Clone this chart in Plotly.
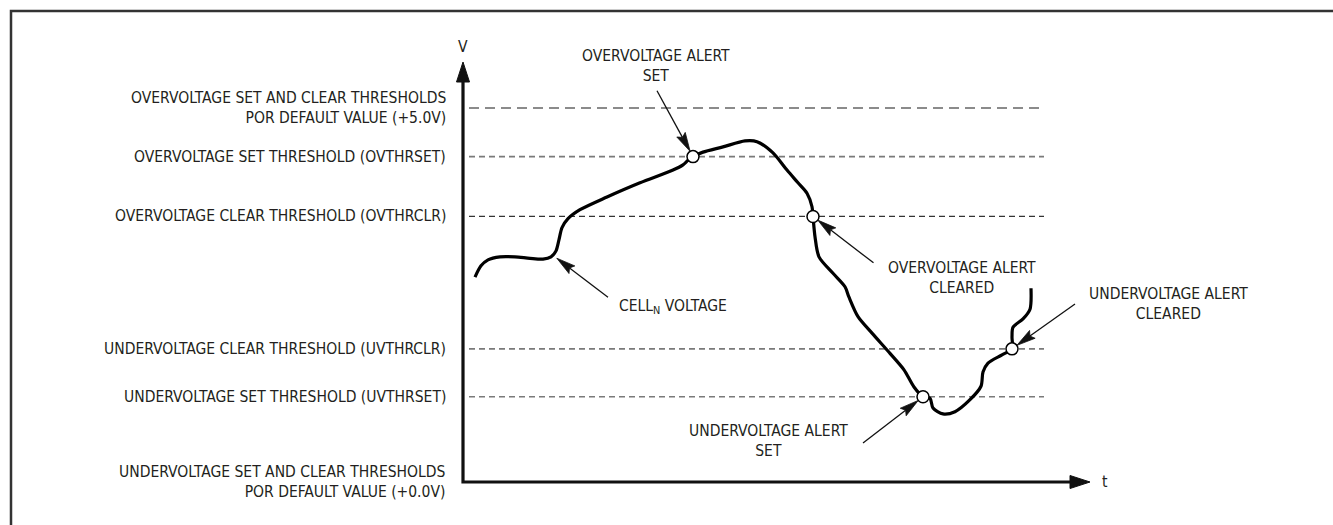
import math
import plotly.graph_objects as go

# ---------------- data ----------------
# Cell voltage trace (time in arbitrary units, voltage in V)
t_cell = [1.2, 1.8, 2.5, 3.7, 5.2, 6.7, 8.0, 8.8, 9.3, 9.6, 9.9, 10.5, 11.7, 14.4,
          17.7, 21.0, 22.0, 22.5, 23.0, 24.0, 26.0, 28.2, 29.4, 31.0, 32.4, 33.5,
          34.4, 34.9, 35.0, 35.2, 35.6, 37.0, 38.2, 38.6, 39.5, 40.9, 42.7, 44.1,
          45.1, 46.0, 46.7, 47.0, 48.0, 49.2, 50.7, 51.8, 52.0, 52.5, 53.9, 54.9,
          54.9, 55.0, 56.0, 56.7, 56.8]
v_cell = [2.74, 2.89, 2.97, 3.01, 3.01, 2.99, 2.98, 3.01, 3.09, 3.24, 3.40, 3.52,
          3.64, 3.81, 4.00, 4.17, 4.24, 4.30, 4.35, 4.41, 4.48, 4.56, 4.55, 4.40,
          4.17, 4.00, 3.86, 3.68, 3.55, 3.28, 3.01, 2.79, 2.61, 2.47, 2.21, 1.99,
          1.72, 1.50, 1.27, 1.14, 1.12, 0.99, 0.91, 0.94, 1.10, 1.28, 1.47, 1.59,
          1.70, 1.78, 1.94, 2.07, 2.18, 2.31, 2.59]

threshold_labels = [
    "OVERVOLTAGE SET AND CLEAR THRESHOLDS<br>POR DEFAULT VALUE (+5.0V)",
    "OVERVOLTAGE SET THRESHOLD (OVTHRSET)",
    "OVERVOLTAGE CLEAR THRESHOLD (OVTHRCLR)",
    "UNDERVOLTAGE CLEAR THRESHOLD (UVTHRCLR)",
    "UNDERVOLTAGE SET THRESHOLD (UVTHRSET)",
    "UNDERVOLTAGE SET AND CLEAR THRESHOLDS<br>POR DEFAULT VALUE (+0.0V)",
]
threshold_values = [5.0, 4.35, 3.55, 1.78, 1.14, 0.0]

# alert events: (time, threshold crossed)
alert_t = [23.0, 35.0, 46.0, 54.9]
alert_v = [4.35, 3.55, 1.14, 1.78]
alert_labels = ["OVERVOLTAGE ALERT<br>SET", "OVERVOLTAGE ALERT<br>CLEARED",
                "UNDERVOLTAGE ALERT<br>SET", "UNDERVOLTAGE ALERT<br>CLEARED"]

# ---------------- layout constants ----------------
W, H = 1333, 525
X0_PX, Y0_PX = 463, 482          # origin position in pixels
T_PER_PX = 0.1
V_PER_PX = 1 / 74.8
x_range = [-X0_PX * T_PER_PX, (W - X0_PX) * T_PER_PX]
y_range = [-(H - Y0_PX) * V_PER_PX, Y0_PX * V_PER_PX]

FONT = "Liberation Sans Narrow, Arial Narrow, DejaVu Sans Condensed, sans-serif"
TXT = "#231f20"
FS = 15.5

fig = go.Figure()

shapes = []
annotations = []

# frame (partial border, like the cropped figure box)
bx, by = 11 / W, 1 - 11 / H
shapes.append(dict(type="path", xref="paper", yref="paper",
                   path=f"M {bx},-0.05 L {bx},{by} L 1.05,{by}",
                   line=dict(color="#333333", width=2.5)))

# threshold dashed lines
t_line0, t_line1 = 0.6, 58.1
dash_styles = ["10px,6px", "6px,4px", "6px,4px", "6px,4px", "6px,4px"]
dash_colors = ["#666666", "#7a7a7a", "#333333", "#7a7a7a", "#7a7a7a"]
dash_widths = [1.5, 1.6, 1.3, 1.6, 1.6]
for i, val in enumerate(threshold_values[:-1]):
    shapes.append(dict(type="line", xref="x", yref="y", layer="below",
                       x0=t_line0, x1=t_line1, y0=val, y1=val,
                       line=dict(color=dash_colors[i], width=dash_widths[i],
                                 dash=dash_styles[i])))

# threshold labels on the left
for lab, val in zip(threshold_labels, threshold_values):
    annotations.append(dict(x=-1.5, y=val, xref="x", yref="y", text=lab,
                            showarrow=False, xanchor="right", yanchor="middle",
                            align="right", font=dict(family=FONT, size=FS, color=TXT)))

# axes with arrowheads
AX_HEAD_L, AX_HEAD_HW = 20, 6.5
v_tip = (Y0_PX - 62) * V_PER_PX
t_tip = (1090 - X0_PX) * T_PER_PX
v_base = v_tip - AX_HEAD_L * V_PER_PX
t_base = t_tip - AX_HEAD_L * T_PER_PX
shapes.append(dict(type="path", xref="x", yref="y",
                   path=f"M 0,{v_base} L 0,0 L {t_base},0",
                   line=dict(color="#111111", width=3.2)))
hw_t = AX_HEAD_HW * T_PER_PX
hw_v = AX_HEAD_HW * V_PER_PX
shapes.append(dict(type="path", xref="x", yref="y",
                   path=f"M {-hw_t},{v_base} L 0,{v_tip} L {hw_t},{v_base} Z",
                   fillcolor="#111111", line=dict(color="#111111", width=1)))
shapes.append(dict(type="path", xref="x", yref="y",
                   path=f"M {t_base},{-hw_v} L {t_tip},0 L {t_base},{hw_v} Z",
                   fillcolor="#111111", line=dict(color="#111111", width=1)))
annotations.append(dict(x=0, y=v_tip + 15 * V_PER_PX, xref="x", yref="y", text="V",
                        showarrow=False, xanchor="center", yanchor="middle",
                        font=dict(family=FONT, size=FS, color=TXT)))
annotations.append(dict(x=t_tip + 1.0, y=0, xref="x", yref="y", text="t",
                        showarrow=False, xanchor="left", yanchor="middle",
                        font=dict(family=FONT, size=FS, color=TXT)))


# pointer arrows (thin line + slim filled head)
def pointer(tail, target, backoff_px, head_len=19, head_hw=4.8):
    dx = (target[0] - tail[0]) / T_PER_PX
    dy = (target[1] - tail[1]) / V_PER_PX
    L = math.hypot(dx, dy)
    ux, uy = dx / L, dy / L
    px, py = -uy, ux

    def to_data(ax, ay):
        return tail[0] + ax * T_PER_PX, tail[1] + ay * V_PER_PX

    tip = (dx - backoff_px * ux, dy - backoff_px * uy)
    base = (tip[0] - head_len * ux, tip[1] - head_len * uy)
    notch = (tip[0] - (head_len - 3) * ux, tip[1] - (head_len - 3) * uy)
    left = (base[0] + head_hw * px, base[1] + head_hw * py)
    right = (base[0] - head_hw * px, base[1] - head_hw * py)
    pts = [to_data(*p) for p in (left, tip, right, notch)]
    n = to_data(*notch)
    shapes.append(dict(type="line", xref="x", yref="y",
                       x0=tail[0], y0=tail[1], x1=n[0], y1=n[1],
                       line=dict(color="#111111", width=1.3)))
    path = "M " + " L ".join(f"{a},{b}" for a, b in pts) + " Z"
    shapes.append(dict(type="path", xref="x", yref="y", path=path,
                       fillcolor="#111111", line=dict(color="#111111", width=0.8)))


CIRCLE_R = 6
arrow_tails = [(19.4, 5.23), (41.05, 2.93), (40.0, 0.52), (61.2, 2.38)]
for tail, at, av in zip(arrow_tails, alert_t, alert_v):
    pointer(tail, (at, av), CIRCLE_R)
# Cell voltage pointer
pointer((14.5, 2.47), (9.3, 3.00), 1.0)

# alert labels
label_pos = [(19.3, 5.56), (49.9, 2.73), (30.5, 0.55), (70.5, 2.38)]
for lab, (lx, ly) in zip(alert_labels, label_pos):
    annotations.append(dict(x=lx, y=ly, xref="x", yref="y", text=lab,
                            showarrow=False, xanchor="center", yanchor="middle",
                            align="center", font=dict(family=FONT, size=FS, color=TXT)))
annotations.append(dict(x=15.4, y=2.34, xref="x", yref="y",
                        text="CELL<sub>N</sub> VOLTAGE",
                        showarrow=False, xanchor="left", yanchor="middle",
                        font=dict(family=FONT, size=FS, color=TXT)))

# traces
fig.add_trace(go.Scatter(x=t_cell, y=v_cell, mode="lines",
                         line=dict(color="#000000", width=3.2, shape="spline", smoothing=0.8),
                         hoverinfo="skip", showlegend=False))
fig.add_trace(go.Scatter(x=alert_t, y=alert_v, mode="markers",
                         marker=dict(size=2 * CIRCLE_R, color="white",
                                     line=dict(color="#000000", width=1.5)),
                         hoverinfo="skip", showlegend=False))

fig.update_layout(
    width=W, height=H,
    margin=dict(l=0, r=0, t=0, b=0),
    paper_bgcolor="white", plot_bgcolor="white",
    xaxis=dict(range=x_range, visible=False, fixedrange=True),
    yaxis=dict(range=y_range, visible=False, fixedrange=True),
    shapes=shapes, annotations=annotations,
    showlegend=False,
)

fig.write_html("out.html", config={"displayModeBar": False})

# remove the default page margin so the figure sits at the window origin
with open("out.html", "r", encoding="utf-8") as f:
    html = f.read()
html = html.replace("<head>", "<head><style>html,body{margin:0;padding:0;overflow:hidden;}</style>", 1)
with open("out.html", "w", encoding="utf-8") as f:
    f.write(html)
